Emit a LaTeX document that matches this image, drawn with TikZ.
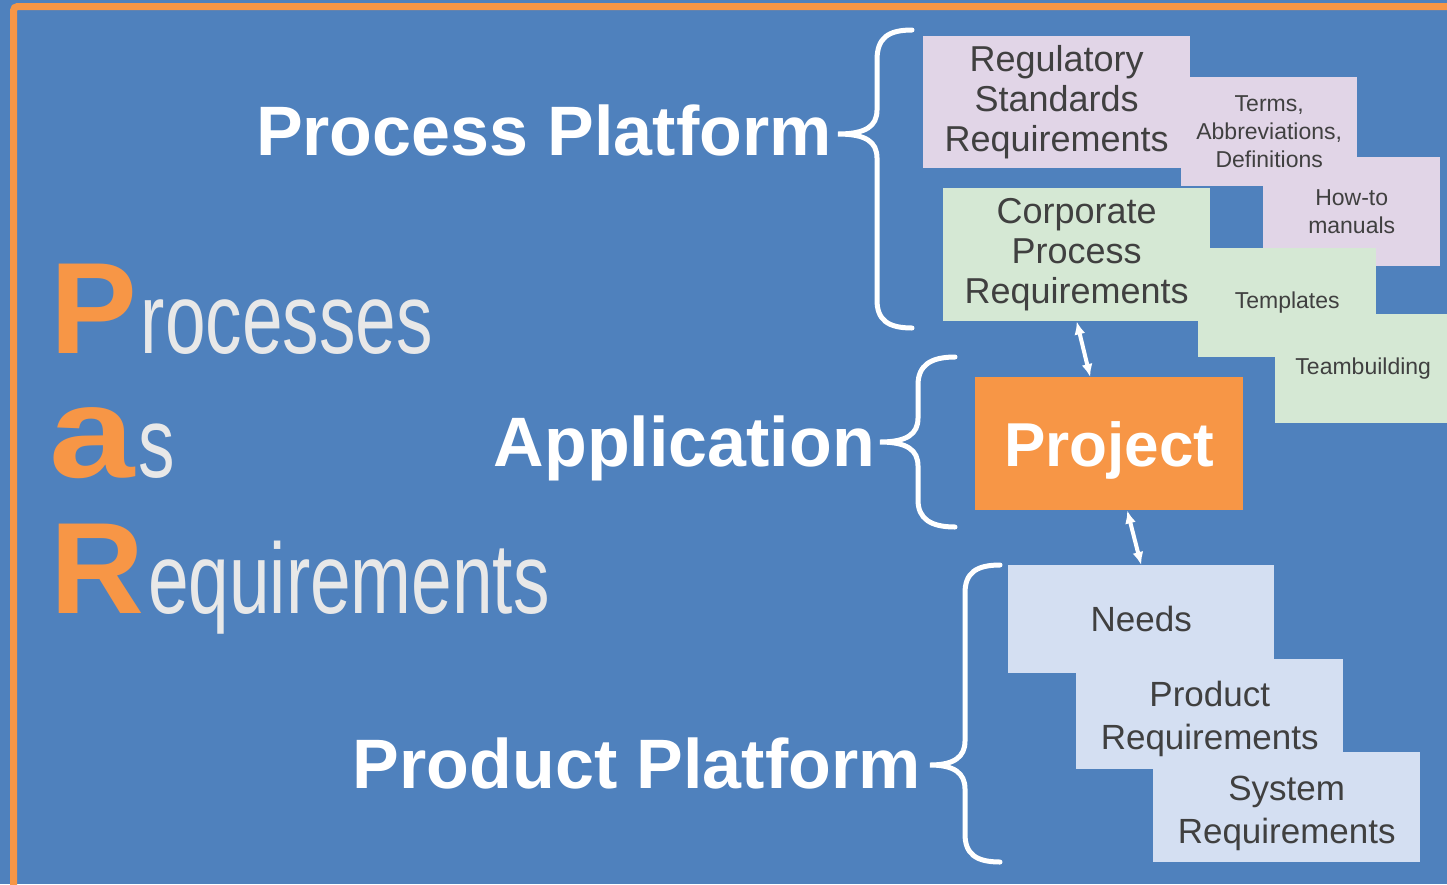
\documentclass[tikz,border=0pt]{standalone}
\usepackage{fontspec}
\setmainfont{Liberation Sans}
\newfontfamily\narrowfont[FakeStretch=0.73]{Liberation Sans}
\usetikzlibrary{arrows.meta,positioning}
\definecolor{slideblue}{HTML}{4F81BD}
\definecolor{slideorange}{HTML}{F79646}
\definecolor{lilac}{HTML}{E1D5E7}
\definecolor{mint}{HTML}{D5E8D4}
\definecolor{paleblue}{HTML}{D4DFF2}
\definecolor{boxtext}{HTML}{404040}
\definecolor{lightgrey}{HTML}{E8E8E8}
\newcommand\parinitial[1]{{\color{slideorange}\rmfamily\bfseries\fontsize{130}{130}\selectfont #1}\kern4pt}
\tikzset{>=latex}

\begin{document}
\begin{tikzpicture}[x=1pt, y=-1pt, every node/.style={inner sep=0pt},
	stepbox/.style={anchor=north west, align=center, text=boxtext},
	bigbox/.style={stepbox, font=\fontsize{36}{40}\selectfont},
	needbox/.style={stepbox, font=\fontsize{35}{43}\selectfont},
	smallbox/.style={stepbox, font=\fontsize{23}{28}\selectfont},
	platform/.style={anchor=base east, text=white, font=\bfseries\fontsize{70}{70}\selectfont},
	parword/.style={anchor=base west, text=lightgrey, font=\narrowfont\fontsize{100}{100}\selectfont},
	bracestroke/.style={white, line width=5pt, line cap=round},
	link/.style={white, line width=4pt, {Latex[length=13pt,width=11pt]}-{Latex[length=13pt,width=11pt]}}]
	\useasboundingbox (0,0) rectangle (1447,884);
	\clip (0,0) rectangle (1447,884);
	\fill[slideblue] (0,0) rectangle (1447,884);
	\draw[slideorange, line width=7pt, rounded corners=4pt] (13.5,950) -- (13.5,6.5) -- (1500,6.5);

	% PaR acronym
	\node[parword] (procs) at (50,353) {\parinitial{P}rocesses};
	\node[parword] (as) at (49,477) {\parinitial{\scalebox{1.18}[1]{a}}s};
	\node[parword] (reqs) at (50,613) {\parinitial{R}equirements};

	% platform labels
	\node[platform] (procplat) at (832,155) {Process Platform};
	\node[platform] (appl) at (875,466) {Application};
	\node[platform] (prodplat) at (921,788) {Product Platform};

	% process platform boxes
	\node[smallbox, fill=lilac, minimum width=177pt, minimum height=109pt] (howto) at (1263,157) {How-to\\manuals};
	\node[smallbox, fill=lilac, minimum width=176pt, minimum height=109pt] (terms) at (1181,77) {Terms,\\Abbreviations,\\Definitions};
	\node[bigbox, fill=lilac, minimum width=267pt, minimum height=132pt] (regstd) at (923,36) {Regulatory\\Standards\\Requirements};
	\node[smallbox, fill=mint, minimum width=176pt, minimum height=109pt] (teamb) at (1275,314) {Teambuilding};
	\node[smallbox, fill=mint, minimum width=178pt, minimum height=109pt] (templ) at (1198,248) {Templates};
	\node[bigbox, fill=mint, minimum width=267pt, minimum height=133pt] (corp) at (943,188) {Corporate\\Process\\Requirements};

	% application
	\node[stepbox, fill=slideorange, text=white, font=\bfseries\fontsize{62}{62}\selectfont, text depth=0pt, minimum width=268pt, minimum height=133pt] (project) at (975,377) {Project};

	% product platform boxes (struts push the two-line texts a bit lower)
	\node[needbox, fill=paleblue, minimum width=267pt, minimum height=110pt] (sysreq) at (1153,752) {\rule{0pt}{36pt}System\\Requirements};
	\node[needbox, fill=paleblue, minimum width=267pt, minimum height=110pt] (prodreq) at (1076,659) {\rule{0pt}{34pt}Product\\Requirements};
	\node[needbox, fill=paleblue, minimum width=266pt, minimum height=108pt] (needs) at (1008,565) {Needs};

	% links to the project
	\draw[link] (corp.south) -- ([xshift=-19pt]project.north);
	\draw[link] ([xshift=18pt]project.south) -- (needs.north);

	% braces
	\draw[bracestroke] (912,30) .. controls (888,30) and (877,38) .. (877,60) -- (877,110) .. controls (877,126) and (866,134) .. (838,134) .. controls (866,134) and (877,142) .. (877,158) -- (877,300) .. controls (877,320) and (888,328) .. (912,328);
	\draw[bracestroke] (955,357) .. controls (931,357) and (918,365) .. (918,385) -- (918,418) .. controls (918,434) and (907,442) .. (880,442) .. controls (907,442) and (918,450) .. (918,466) -- (918,500) .. controls (918,519) and (931,527) .. (955,527);
	\draw[bracestroke] (1000,565) .. controls (976,565) and (965,573) .. (965,593) -- (965,741) .. controls (965,757) and (954,765) .. (930,765) .. controls (954,765) and (965,773) .. (965,789) -- (965,834) .. controls (965,854) and (976,862) .. (1000,862);
\end{tikzpicture}
\end{document}
